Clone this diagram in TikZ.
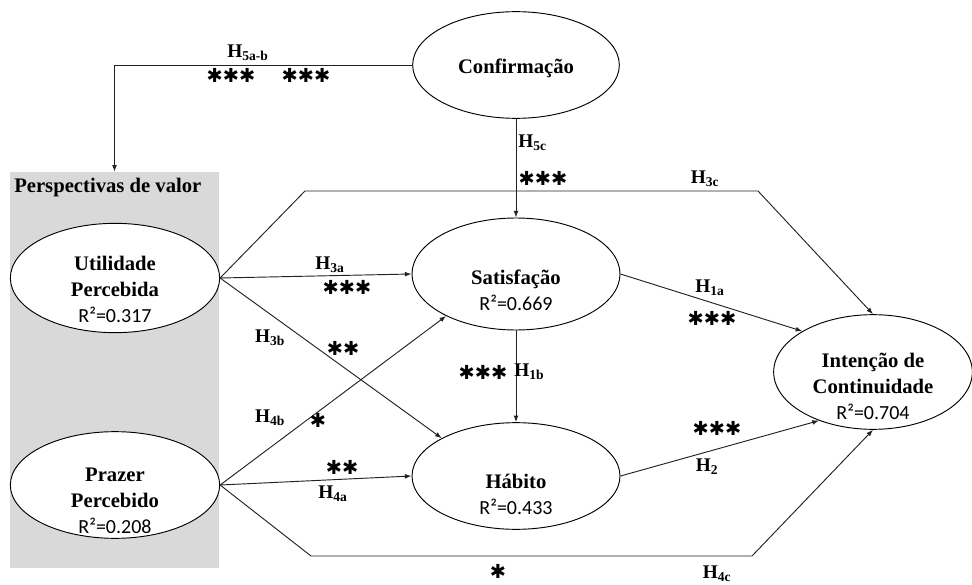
\documentclass[tikz,border=0pt]{standalone}
\usepackage{fontspec}
\setmainfont{Liberation Serif}
\newfontfamily\rfont{Carlito}
\newfontfamily\starfont{DejaVu Sans}
\usetikzlibrary{arrows.meta,shapes.geometric}
\definecolor{panelgray}{HTML}{D9D9D9}
\definecolor{linegray}{HTML}{222222}
\newcommand{\hlab}[1]{H\textsubscript{#1}}
\newcommand{\rsq}[1]{{\rfont\mdseries\fontsize{15}{15}\selectfont R²=#1}}

\begin{document}
\begin{tikzpicture}[x=0.75pt,y=-0.75pt,>={Latex[length=5pt,width=3.6pt]},
  construct/.style={draw,ellipse,fill=white,inner sep=0pt,line width=0.7pt},
  ctext/.style={align=center,font=\bfseries\fontsize{15.5}{19.5}\selectfont,inner sep=0pt},
  hyp/.style={font=\bfseries\fontsize{14.5}{14.5}\selectfont,inner sep=0pt},
  stars/.style={font=\starfont\fontsize{14.5}{14.5}\selectfont,inner sep=0pt},
  link/.style={->,line width=0.7pt,linegray}]
  \useasboundingbox (0,0) rectangle (972,585);
  \node[fill=panelgray,minimum width=156.75pt,minimum height=297pt,inner sep=0pt] (panel) at (114.5,370) {};
  \node[anchor=west,font=\bfseries\fontsize{15.5}{15.5}\selectfont,inner sep=0pt] (persp) at (14,188) {Perspectivas de valor};

  \node[construct,minimum width=155pt,minimum height=80pt] (conf) at (516,65) {};
  \node[construct,minimum width=157pt,minimum height=82pt] (util) at (115,278) {};
  \node[construct,minimum width=157pt,minimum height=80pt] (prazer) at (115,485) {};
  \node[construct,minimum width=156pt,minimum height=84pt] (satis) at (516,274) {};
  \node[construct,minimum width=156pt,minimum height=80pt] (habito) at (516,476) {};
  \node[construct,minimum width=149pt,minimum height=86pt] (intencao) at (873,372) {};

  \node[ctext] (conft) at (516,68) {Confirmação};
  \node[ctext] (utilt) at (115,289) {Utilidade\\Percebida\\\rsq{0.317}};
  \node[ctext] (prazert) at (115,501) {Prazer\\Percebido\\\rsq{0.208}};
  \node[ctext] (satist) at (516,290) {Satisfação\\\rsq{0.669}};
  \node[ctext] (habitot) at (516,494) {Hábito\\\rsq{0.433}};
  \node[ctext] (intencaot) at (873,386) {Intenção de\\Continuidade\\\rsq{0.704}};

  \coordinate (c3a) at (305,191);
  \coordinate (c3b) at (758,191);
  \coordinate (c4a) at (311,556);
  \coordinate (c4b) at (752,556);
  \draw[link] (conf.west) -| (panel.north);
  \draw[link] (conf.south) -- (satis.north);
  \draw[link] (util.east) -- (c3a) -- (c3b) -- (intencao.north);
  \draw[link] (util.east) -- (satis.west);
  \draw[link] (util.east) -- (habito.153);
  \draw[link] (prazer.east) -- (satis.211);
  \draw[link] (prazer.east) -- (habito.west);
  \draw[link] (prazer.east) -- (c4a) -- (c4b) -- (intencao.south);
  \draw[link] (satis.east) -- (intencao.150);
  \draw[link] (habito.east) -- (intencao.222);
  \draw[link] (satis.south) -- (habito.north);

  \node[hyp] (h5ab) at (248,53) {\hlab{5a-b}};
  \node[stars] (s5a) at (231,75) {✱✱✱};
  \node[stars] (s5b) at (306,75) {✱✱✱};
  \node[hyp,anchor=west] (h5c) at (518,143) {\hlab{5c}};
  \node[stars] (s5c) at (543,178) {✱✱✱};
  \node[hyp] (h3c) at (705,179) {\hlab{3c}};
  \node[hyp] (h3a) at (330,265) {\hlab{3a}};
  \node[stars] (s3a) at (347,287) {✱✱✱};
  \node[hyp] (h3b) at (270,338) {\hlab{3b}};
  \node[stars] (s3b) at (343,348) {✱✱};
  \node[hyp] (h4b) at (270,418) {\hlab{4b}};
  \node[stars] (s4b) at (318,420) {✱};
  \node[stars] (s4a) at (342,467) {✱✱};
  \node[hyp] (h4a) at (333,494) {\hlab{4a}};
  \node[stars] (s1b) at (483,372) {✱✱✱};
  \node[hyp,anchor=west] (h1b) at (514,372) {\hlab{1b}};
  \node[hyp] (h1a) at (710,288) {\hlab{1a}};
  \node[stars] (s1a) at (712,318) {✱✱✱};
  \node[stars] (s2) at (717,428) {✱✱✱};
  \node[hyp] (h2) at (707,467) {\hlab{2}};
  \node[stars] (s4c) at (498,571) {✱};
  \node[hyp] (h4c) at (717,574) {\hlab{4c}};
\end{tikzpicture}
\end{document}
